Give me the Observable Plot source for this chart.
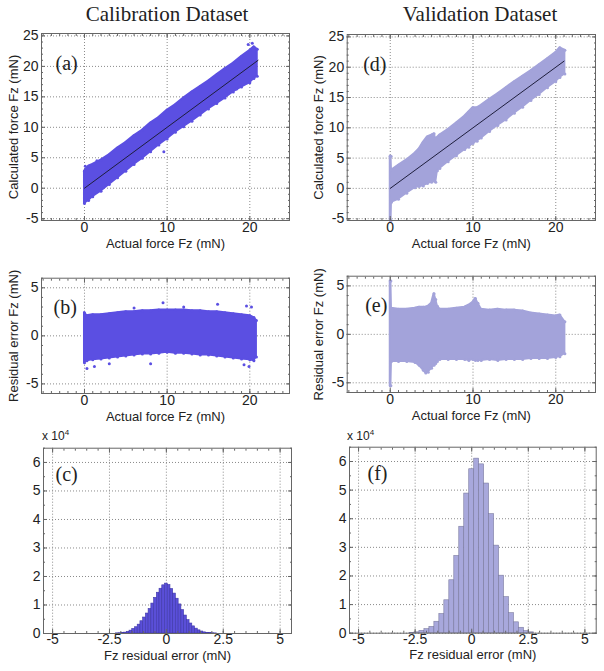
<!DOCTYPE html>
<html><head><meta charset="utf-8">
<script src="https://cdn.jsdelivr.net/npm/d3@7"></script>
<script src="https://cdn.jsdelivr.net/npm/@observablehq/plot@0.6"></script>
<style>
body{margin:0;background:#fff;}
#root{position:relative;width:604px;height:671px;background:#fff;overflow:hidden;font-family:"Liberation Sans",Arial,sans-serif;}
.title{position:absolute;top:2px;font-family:"Liberation Serif","Times New Roman",serif;font-size:21px;color:#222;transform:translateX(-50%);white-space:nowrap;}
.exp{position:absolute;font-size:12px;color:#222;white-space:nowrap;}
.exp sup{font-size:8px;}
.panel{position:absolute;}
.panel svg{overflow:visible;}
</style></head><body><div id="root"></div>
<script>
// ---------- data ----------
const titles = ["Calibration Dataset", "Validation Dataset"];
const panelTags = ["(a)", "(b)", "(c)", "(d)", "(e)", "(f)"];
const xLabelForce = "Actual force Fz (mN)";
const yLabelCalc = "Calculated force Fz (mN)";
const yLabelResid = "Residual error Fz (mN)";
const xLabelHist = "Fz residual error (mN)";

const forceTicks = [0, 10, 20];
const calcTicks = [-5, 0, 5, 10, 15, 20, 25];
const residTicks = [-5, 0, 5];
const histXTicks = [-5, -2.5, 0, 2.5, 5];
const histYTicks = [0, 1, 2, 3, 4, 5, 6];

// ideal fit line (calculated = actual)
const fitX = [0, 21];
const fitY = [0, 21];

// (a) calibration: envelope of calculated-force cloud
const aX  = [0, 0.5, 1, 2, 3, 4, 5, 6, 7, 8, 9, 10, 11, 12, 13, 14, 15, 16, 17, 18, 19, 20, 20.5, 20.9];
const aHi = [2.8, 3.6, 3.9, 4.6, 5.5, 6.6, 7.5, 8.6, 9.5, 10.7, 11.6, 12.8, 13.7, 14.8, 15.8, 16.7, 17.6, 18.6, 19.6, 20.5, 21.6, 22.6, 23.2, 22.8];
const aLo = [-2.5, -2.0, -1.4, -0.5, 0.6, 1.7, 2.8, 3.9, 4.9, 6.0, 7.1, 8.1, 9.2, 10.1, 11.0, 12.0, 13.0, 13.9, 14.8, 15.8, 16.6, 17.3, 18.0, 18.4];
const aOutX = [0.1, 1.5, 9.6, 12.1, 17.2, 18.4, 19.8, 20.3];
const aOutY = [3.6, 4.5, 6.0, 14.9, 15.9, 16.3, 23.6, 23.8];

// (b) calibration residual envelope
const bX  = [0, 0.3, 1, 2, 3, 4, 5, 6, 7, 8, 9, 10, 11, 12, 13, 14, 15, 16, 17, 18, 19, 20, 20.5, 20.8];
const bHi = [2.4, 2.1, 2.2, 2.2, 2.3, 2.4, 2.5, 2.5, 2.6, 2.6, 2.7, 2.7, 2.7, 2.7, 2.6, 2.6, 2.5, 2.5, 2.4, 2.3, 2.2, 2.1, 1.9, 1.6];
const bLo = [-2.8, -2.6, -2.5, -2.4, -2.3, -2.2, -2.1, -2.0, -1.9, -1.9, -1.8, -1.7, -1.8, -1.8, -1.9, -2.0, -2.0, -2.1, -2.2, -2.3, -2.4, -2.5, -2.6, -2.2];
const bOutX = [9.5, 16.1, 19.6, 20.2, 6.0, 12.0, 0.3, 1.2, 8.0, 19.3, 19.9, 3.0];
const bOutY = [3.45, 3.3, 3.1, 3.0, 2.9, 3.0, -3.4, -3.2, -2.9, -3.0, -3.2, -2.9];

// (d) validation: envelope of calculated-force cloud
const dX  = [0, 0.1, 0.15, 1, 2, 3, 3.5, 4, 4.5, 5, 5.3, 5.5, 5.7, 6, 7, 8, 9, 9.5, 10, 10.5, 11, 12, 13, 14, 15, 16, 17, 18, 19, 20, 20.5, 21.1];
const dHi = [5.3, 5.3, 3.0, 3.8, 4.7, 5.8, 6.5, 7.6, 8.5, 8.8, 9.0, 8.2, 8.4, 8.8, 9.7, 10.8, 11.9, 12.6, 13.3, 13.3, 13.7, 14.7, 15.6, 16.6, 17.6, 18.5, 19.4, 20.4, 21.4, 22.4, 23.2, 22.8];
const dLo = [-5.3, -5.3, -2.3, -1.8, -0.8, 0.1, 0.3, 0.4, 0.8, 1.0, 1.2, 1.0, 2.9, 3.3, 4.4, 5.4, 6.4, 6.8, 7.4, 7.8, 8.3, 9.4, 10.4, 11.3, 12.4, 13.4, 14.5, 15.5, 16.6, 17.6, 18.3, 18.9];

// (e) validation residual envelope
const eX  = [0, 0.08, 0.15, 1, 2, 3, 3.5, 4, 4.3, 4.6, 5.0, 5.3, 5.5, 5.7, 6, 7, 8, 9, 9.5, 10, 10.3, 10.6, 11, 12, 13, 14, 15, 16, 17, 18, 19, 20, 20.5, 21.1];
const eHi = [5.5, 5.5, 2.7, 2.6, 2.6, 2.7, 2.8, 2.8, 2.8, 2.9, 3.2, 4.2, 3.6, 2.9, 2.6, 2.6, 2.7, 2.8, 3.0, 3.3, 3.7, 3.2, 2.6, 2.5, 2.6, 2.5, 2.5, 2.4, 2.2, 2.1, 2.0, 1.9, 2.0, 1.3];
const eLo = [-5.3, -5.3, -2.8, -2.8, -2.8, -2.9, -3.2, -3.7, -4.0, -3.9, -3.5, -3.2, -3.0, -2.8, -2.6, -2.6, -2.6, -2.6, -2.7, -2.6, -2.7, -2.7, -2.7, -2.6, -2.7, -2.6, -2.6, -2.6, -2.5, -2.5, -2.5, -2.4, -2.3, -2.0];

// (c) calibration residual histogram (counts x 10^4)
const cBins = [-2.16, -2.04, -1.92, -1.80, -1.68, -1.56, -1.44, -1.32, -1.20, -1.08, -0.96, -0.84, -0.72, -0.60, -0.48, -0.36, -0.24, -0.12, 0, 0.12, 0.24, 0.36, 0.48, 0.60, 0.72, 0.84, 0.96, 1.08, 1.20, 1.32, 1.44, 1.56, 1.68, 1.80, 1.92, 2.04, 2.16];
const cCounts = [0.005, 0.01, 0.02, 0.03, 0.06, 0.10, 0.16, 0.22, 0.31, 0.43, 0.56, 0.70, 0.86, 1.05, 1.25, 1.43, 1.57, 1.69, 1.75, 1.70, 1.56, 1.40, 1.22, 1.02, 0.82, 0.63, 0.47, 0.35, 0.25, 0.17, 0.11, 0.07, 0.04, 0.025, 0.015, 0.008, 0.004];
const cBinWidth = 0.12;

// (f) validation residual histogram (counts x 10^4)
const fBins = [-2.64, -2.42, -2.20, -1.98, -1.76, -1.54, -1.32, -1.10, -0.88, -0.66, -0.44, -0.22, 0, 0.22, 0.44, 0.66, 0.88, 1.10, 1.32, 1.54, 1.76, 1.98, 2.20, 2.42, 2.64];
const fCounts = [0.01, 0.03, 0.08, 0.14, 0.22, 0.40, 0.67, 1.15, 1.85, 2.70, 3.72, 4.88, 5.73, 6.10, 5.90, 5.23, 4.16, 3.06, 2.01, 1.26, 0.70, 0.38, 0.19, 0.07, 0.03];
const fBinWidth = 0.22;

// ---------- styles ----------
const calColor = "#5b4fe2";
const valColor = "#a3a3da";
const calHistFill = "#5a4fd8", calHistStroke = "#3f37a8";
const valHistFill = "#a8a8dc", valHistStroke = "#7c7ca0";
const sans = '"Liberation Sans", Arial, sans-serif';
const serif = '"Liberation Serif", "Times New Roman", serif';

const root = document.getElementById("root");
const plainFmt = d => String(d);

function zipEnv(xs, hi, lo) { return xs.map((x, i) => ({x, hi: hi[i], lo: lo[i]})); }
function zipXY(xs, ys) { return xs.map((x, i) => ({x, y: ys[i]})); }
function zipHist(b, c, w) { return b.map((x, i) => ({x1: x - w / 2, x2: x + w / 2, y: c[i]})); }
function range(a, b, s) { const r = []; for (let v = a; v <= b + 1e-9; v += s) r.push(+v.toFixed(4)); return r; }

function panel(o) {
  const [bx, by, bw, bh] = o.box;
  const [fl, fr, ft, fb] = o.frame;
  const blank = () => "";
  const marks = [
    Plot.gridX(o.xTicks, {stroke: "#8a8a8a", strokeOpacity: 1, strokeDasharray: "1,2"}),
    Plot.gridY(o.yTicks, {stroke: "#8a8a8a", strokeOpacity: 1, strokeDasharray: "1,2"}),
    ...o.marks,
    Plot.frame({stroke: "#666"}),
    Plot.axisX(o.xMinor, {anchor: "bottom", tickSize: -2, tickFormat: blank, label: null, stroke: "#666"}),
    Plot.axisX(o.xMinor, {anchor: "top", tickSize: -2, tickFormat: blank, label: null, stroke: "#666"}),
    Plot.axisY(o.yMinor, {anchor: "left", tickSize: -2, tickFormat: blank, label: null, stroke: "#666"}),
    Plot.axisY(o.yMinor, {anchor: "right", tickSize: -2, tickFormat: blank, label: null, stroke: "#666"}),
    Plot.axisX(o.xTicks, {anchor: "top", tickSize: -4, tickFormat: blank, label: null, stroke: "#666"}),
    Plot.axisY(o.yTicks, {anchor: "right", tickSize: -4, tickFormat: blank, label: null, stroke: "#666"}),
    Plot.axisX(o.xTicks, {anchor: "bottom", tickSize: -4, tickPadding: o.xPad + 4, tickFormat: plainFmt, label: null, fontSize: 14, fill: "#222", stroke: "#666"}),
    Plot.axisY(o.yTicks, {anchor: "left", tickSize: -4, tickPadding: 3 + 4, tickFormat: plainFmt, label: null, fontSize: 14, fill: "#222", stroke: "#666"}),
    Plot.text([o.xLabel], {text: d => d, frameAnchor: "bottom", dy: o.xLabelDy, fontSize: 13, fill: "#222"}),
    Plot.text([o.tag], {text: d => d, frameAnchor: "top-left", dx: o.tagDx, dy: o.tagDy, textAnchor: "start", fontFamily: serif, fontSize: 20, fill: "#222"})
  ];
  if (o.yLabel) marks.push(Plot.text([o.yLabel], {text: d => d, frameAnchor: "left", dx: o.yLabelDx, rotate: -90, textAnchor: "middle", lineAnchor: "middle", fontSize: 13, fill: "#222"}));
  const svg = Plot.plot({
    width: bw, height: bh,
    marginLeft: fl - bx, marginRight: bx + bw - fr,
    marginTop: ft - by, marginBottom: by + bh - fb,
    x: {domain: o.xDomain}, y: {domain: o.yDomain},
    style: {fontFamily: sans, color: "#222", background: "transparent", overflow: "visible"},
    marks
  });
  const div = document.createElement("div");
  div.className = "panel";
  div.style.left = bx + "px"; div.style.top = by + "px";
  div.appendChild(svg);
  root.appendChild(div);
}

// ---------- panels ----------
const forceDomain = [-5.2, 24.8];
const calcDomain = [-5.3, 25.4];
const residDomain = [-6, 6];
const histXDomain = [-5.4, 5.5];
const histYDomain = [0, 6.5];
const forceMinor = range(-5, 24, 1);
const calcMinor = range(-5, 25, 1);
const residMinor = range(-6, 6, 1);
const histXMinor = range(-5, 5, 0.5);
const histYMinor = range(0, 6.5, 0.5);

function scatterMarks(env, color, outliers, withLine) {
  const m = [
    Plot.areaY(env, {x: "x", y1: "lo", y2: "hi", fill: color, stroke: color, strokeWidth: 2}),
    Plot.dot(env, {x: "x", y: "hi", r: 1.5, fill: color}),
    Plot.dot(env, {x: "x", y: "lo", r: 1.5, fill: color})
  ];
  if (outliers) m.push(Plot.dot(outliers, {x: "x", y: "y", r: 1.5, fill: color}));
  if (withLine) m.push(Plot.line(zipXY(fitX, fitY), {x: "x", y: "y", stroke: "#1e1e3c", strokeWidth: 1}));
  return m;
}

const cols = [
  {bx: 0, yLabX: 13, env1: zipEnv(aX, aHi, aLo), out1: zipXY(aOutX, aOutY), env2: zipEnv(bX, bHi, bLo), out2: zipXY(bOutX, bOutY),
   color: calColor, hist: zipHist(cBins, cCounts, cBinWidth), hf: calHistFill, hs: calHistStroke,
   f1: [41, 289, 33, 220], f2: [41, 289, 277.7, 393], f3: [43, 291, 447.7, 633],
   tags: [panelTags[0], panelTags[1], panelTags[2]], tagDx: [14, 12, 12]},
  {bx: 302, yLabX: 318, env1: zipEnv(dX, dHi, dLo), out1: null, env2: zipEnv(eX, eHi, eLo), out2: null,
   color: valColor, hist: zipHist(fBins, fCounts, fBinWidth), hf: valHistFill, hs: valHistStroke,
   f1: [346.7, 595, 34, 220], f2: [346.7, 595, 275.7, 392], f3: [349, 595.7, 446.7, 632.7],
   tags: [panelTags[3], panelTags[4], panelTags[5]], tagDx: [16, 18, 18]}
];

cols.forEach((c, ci) => {
  panel({box: [c.bx, 0, 302, 255], frame: c.f1, xDomain: forceDomain, yDomain: calcDomain,
    xTicks: forceTicks, yTicks: calcTicks, xMinor: forceMinor, yMinor: calcMinor, xPad: 2,
    xLabel: xLabelForce, xLabelDy: 27, yLabel: yLabelCalc, yLabelDx: c.yLabX - c.f1[0],
    tag: c.tags[0], tagDx: c.tagDx[0], tagDy: 22,
    marks: scatterMarks(c.env1, c.color, c.out1, true)});
  panel({box: [c.bx, 255, 302, 170], frame: c.f2, xDomain: forceDomain, yDomain: residDomain,
    xTicks: forceTicks, yTicks: residTicks, xMinor: forceMinor, yMinor: residMinor, xPad: 2,
    xLabel: xLabelForce, xLabelDy: 27, yLabel: yLabelResid, yLabelDx: c.yLabX - c.f2[0],
    tag: c.tags[1], tagDx: c.tagDx[1], tagDy: 22,
    marks: scatterMarks(c.env2, c.color, c.out2, false)});
  panel({box: [c.bx, 425, 302, 246], frame: c.f3, xDomain: histXDomain, yDomain: histYDomain,
    xTicks: histXTicks, yTicks: histYTicks, xMinor: histXMinor, yMinor: histYMinor, xPad: 1,
    xLabel: xLabelHist, xLabelDy: 26, yLabel: null,
    tag: c.tags[2], tagDx: c.tagDx[2], tagDy: 19,
    marks: [Plot.rectY(c.hist, {x1: "x1", x2: "x2", y: "y", fill: c.hf, stroke: c.hs, strokeWidth: 0.6})]});
  const t = document.createElement("div");
  t.className = "title"; t.textContent = titles[ci];
  t.style.left = (ci ? 480 : 167) + "px";
  root.appendChild(t);
  const e = document.createElement("div");
  e.className = "exp"; e.innerHTML = "x 10<sup>4</sup>";
  e.style.left = (ci ? 347 : 42) + "px"; e.style.top = "428px";
  root.appendChild(e);
});
</script></body></html>
